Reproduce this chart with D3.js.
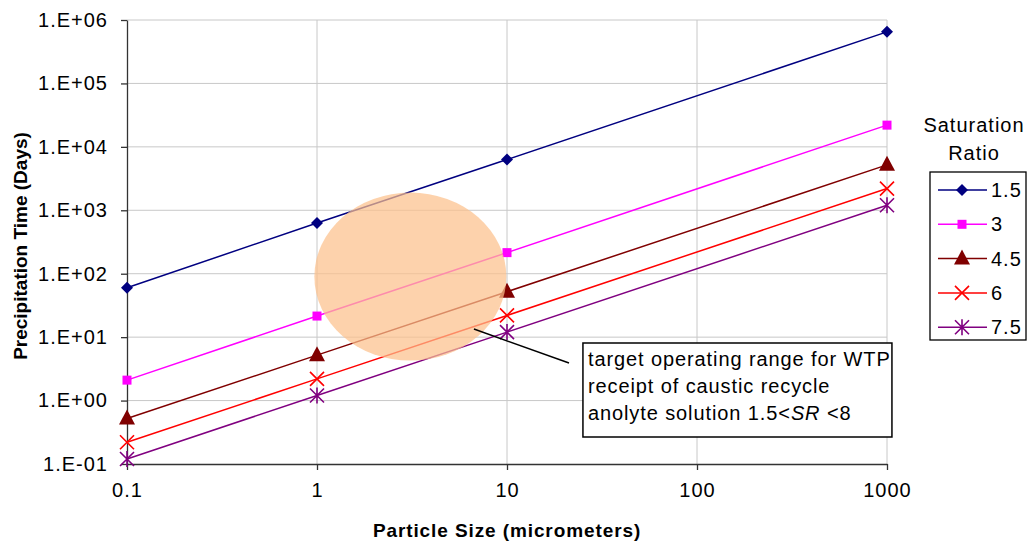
<!DOCTYPE html>
<html>
<head>
<meta charset="utf-8">
<script src="https://cdn.jsdelivr.net/npm/d3@7"></script>
<style>
  body { margin: 0; background: #fff; }
  text { font-family: "Liberation Sans", Arial, sans-serif; }
</style>
</head>
<body>
<div id="chart"></div>
<script>
// particle sizes (micrometers) and precipitation times (days) per saturation ratio
var sizes = [0.1, 1, 10, 1000];
var sr15 = [60, 630, 6300, 650000];
var sr3 = [2.1, 21.5, 215, 22000];
var sr45 = [0.52, 5.2, 52, 5200];
var sr6 = [0.22, 2.2, 22, 2200];
var sr75 = [0.12, 1.2, 12, 1200];
var seriesNames = ["1.5", "3", "4.5", "6", "7.5"];
var xTicks = [0.1, 1, 10, 100, 1000];
var yTicks = [0.1, 1, 10, 100, 1000, 10000, 100000, 1000000];
var yTickLabels = ["1.E-01", "1.E+00", "1.E+01", "1.E+02", "1.E+03", "1.E+04", "1.E+05", "1.E+06"];

function init() {
    var w = 1028;
    var h = 546;
    var margin = { left: 127, top: 20, right: 141, bottom: 82 };

    var svg = d3.select("#chart")
                .append("svg")
                .attr("width", w)
                .attr("height", h);

    var xScale = d3.scaleLog()
                    .domain([0.1, 1000])
                    .range([margin.left, w - margin.right]);

    var yScale = d3.scaleLog()
                    .domain([0.1, 1000000])
                    .range([h - margin.bottom, margin.top]);

    var colors = ["#000080", "#ff00ff", "#800000", "#ff0000", "#800080"];
    var shapes = ["diamond", "square", "triangle", "x", "star"];

    var allSeries = [sr15, sr3, sr45, sr6, sr75].map(function(vals, i) {
        return {
            name: seriesNames[i],
            color: colors[i],
            shape: shapes[i],
            points: vals.map(function(v, j) { return { x: sizes[j], y: v }; })
        };
    });

    // gridlines
    svg.append("g")
        .selectAll("line.hgrid")
        .data(yTicks.slice(1))
        .enter()
        .append("line")
        .attr("x1", xScale(0.1))
        .attr("x2", xScale(1000))
        .attr("y1", function(d) { return yScale(d); })
        .attr("y2", function(d) { return yScale(d); })
        .attr("stroke", "#c8c8c8")
        .attr("stroke-width", 1);

    svg.append("g")
        .selectAll("line.vgrid")
        .data(xTicks.slice(1))
        .enter()
        .append("line")
        .attr("x1", function(d) { return xScale(d); })
        .attr("x2", function(d) { return xScale(d); })
        .attr("y1", yScale(0.1))
        .attr("y2", yScale(1000000))
        .attr("stroke", "#c8c8c8")
        .attr("stroke-width", 1);

    // axes
    var xAxis = d3.axisBottom(xScale)
                    .tickValues(xTicks)
                    .tickFormat(function(d) { return String(d); })
                    .tickSizeInner(6)
                    .tickSizeOuter(0)
                    .tickPadding(13);
    var gx = svg.append("g")
        .attr("transform", "translate(0," + yScale(0.1) + ")")
        .call(xAxis);

    var yAxis = d3.axisLeft(yScale)
                    .tickValues(yTicks)
                    .tickFormat(function(d, i) { return yTickLabels[i]; })
                    .tickSizeInner(6)
                    .tickSizeOuter(0)
                    .tickPadding(13);
    var gy = svg.append("g")
        .attr("transform", "translate(" + xScale(0.1) + ",0)")
        .call(yAxis);

    [gx, gy].forEach(function(g) {
        g.select(".domain").attr("stroke", "#333").attr("stroke-width", 1.3);
        g.selectAll(".tick line").attr("stroke", "#333").attr("stroke-width", 1.3);
        g.selectAll(".tick text")
            .attr("fill", "#000")
            .style("font-size", "20px")
            .style("letter-spacing", "1px")
            .style("font-family", "'Liberation Sans', Arial, sans-serif");
    });

    // marker drawing
    function drawMarker(g, shape, color) {
        if (shape == "diamond") {
            g.append("path").attr("d", "M0,-6L6,0L0,6L-6,0Z").attr("fill", color);
        } else if (shape == "square") {
            g.append("rect").attr("x", -4.5).attr("y", -4.5).attr("width", 9).attr("height", 9)
                .attr("fill", color);
        } else if (shape == "triangle") {
            g.append("path").attr("d", "M0,-9L8,6L-8,6Z").attr("fill", color);
        } else if (shape == "x") {
            g.append("path").attr("d", "M-7,-7L7,7M-7,7L7,-7")
                .attr("stroke", color).attr("stroke-width", 1.6).attr("fill", "none");
        } else if (shape == "star") {
            g.append("path").attr("d", "M-7,-7L7,7M-7,7L7,-7M0,-8L0,8")
                .attr("stroke", color).attr("stroke-width", 1.6).attr("fill", "none");
        }
    }

    var line = d3.line()
                .x(function(d) { return xScale(d.x); })
                .y(function(d) { return yScale(d.y); });

    var groups = svg.selectAll("g.series")
                    .data(allSeries)
                    .enter()
                    .append("g")
                    .attr("class", "series");

    groups.append("path")
        .attr("d", function(d) { return line(d.points); })
        .attr("fill", "none")
        .attr("stroke", function(d) { return d.color; })
        .attr("stroke-width", 1.5);

    groups.each(function(s) {
        var g = d3.select(this);
        s.points.forEach(function(p) {
            var m = g.append("g")
                .attr("transform", "translate(" + xScale(p.x) + "," + yScale(p.y) + ")");
            drawMarker(m, s.shape, s.color);
        });
    });

    // target operating range ellipse (over the lines, semi-transparent)
    svg.append("ellipse")
        .attr("cx", xScale(3.1))
        .attr("cy", yScale(90))
        .attr("rx", 96)
        .attr("ry", 84)
        .attr("fill", "#fcc08c")
        .attr("opacity", 0.72);

    // annotation leader line and box
    svg.append("line")
        .attr("x1", xScale(6.7)).attr("y1", yScale(13.4))
        .attr("x2", xScale(21.2)).attr("y2", yScale(3.9))
        .attr("stroke", "#000").attr("stroke-width", 1.5);

    var boxX = xScale(25.1), boxY = 343;
    svg.append("rect")
        .attr("x", boxX).attr("y", boxY)
        .attr("width", 309).attr("height", 94)
        .attr("fill", "#fff").attr("stroke", "#000").attr("stroke-width", 1.5);

    var noteLines = ["target operating range for WTP", "receipt of caustic recycle"];
    noteLines.forEach(function(t, i) {
        svg.append("text")
            .attr("x", boxX + 5).attr("y", boxY + 23 + i * 27)
            .style("font-size", "20px")
            .style("letter-spacing", "0.9px")
            .text(t);
    });
    var last = svg.append("text")
        .attr("x", boxX + 5).attr("y", boxY + 23 + 2 * 27)
        .style("font-size", "20px")
        .style("letter-spacing", "0.9px");
    last.append("tspan").text("anolyte solution 1.5<");
    last.append("tspan").style("font-style", "italic").text("SR");
    last.append("tspan").text(" <8");

    // axis titles
    svg.append("text")
        .attr("x", (xScale(0.1) + xScale(1000)) / 2)
        .attr("y", 537)
        .attr("text-anchor", "middle")
        .style("font-size", "19px")
        .style("letter-spacing", "0.9px")
        .style("font-weight", "bold")
        .text("Particle Size (micrometers)");

    svg.append("text")
        .attr("transform", "translate(27,246) rotate(-90)")
        .attr("text-anchor", "middle")
        .style("font-size", "19px")
        .style("font-weight", "bold")
        .text("Precipitation Time (Days)");

    // legend
    svg.append("text")
        .attr("x", 974).attr("y", 132)
        .attr("text-anchor", "middle")
        .style("font-size", "20px")
        .style("letter-spacing", "1px")
        .text("Saturation");
    svg.append("text")
        .attr("x", 974).attr("y", 160)
        .attr("text-anchor", "middle")
        .style("font-size", "20px")
        .style("letter-spacing", "1px")
        .text("Ratio");

    svg.append("rect")
        .attr("x", 930).attr("y", 172)
        .attr("width", 96).attr("height", 168)
        .attr("fill", "#fff").attr("stroke", "#000").attr("stroke-width", 1.3);

    var legendItems = svg.selectAll("g.legend")
                        .data(allSeries)
                        .enter()
                        .append("g")
                        .attr("class", "legend")
                        .attr("transform", function(d, i) {
                            return "translate(0," + (190 + i * 34.3) + ")";
                        });

    legendItems.append("line")
        .attr("x1", 938).attr("x2", 987)
        .attr("stroke", function(d) { return d.color; })
        .attr("stroke-width", 1.5);

    legendItems.each(function(s) {
        var m = d3.select(this).append("g").attr("transform", "translate(962,0)");
        drawMarker(m, s.shape, s.color);
    });

    legendItems.append("text")
        .attr("x", 991).attr("y", 7)
        .style("font-size", "20px")
        .style("letter-spacing", "1px")
        .text(function(d) { return d.name; });
}

window.onload = init;
</script>
</body>
</html>
